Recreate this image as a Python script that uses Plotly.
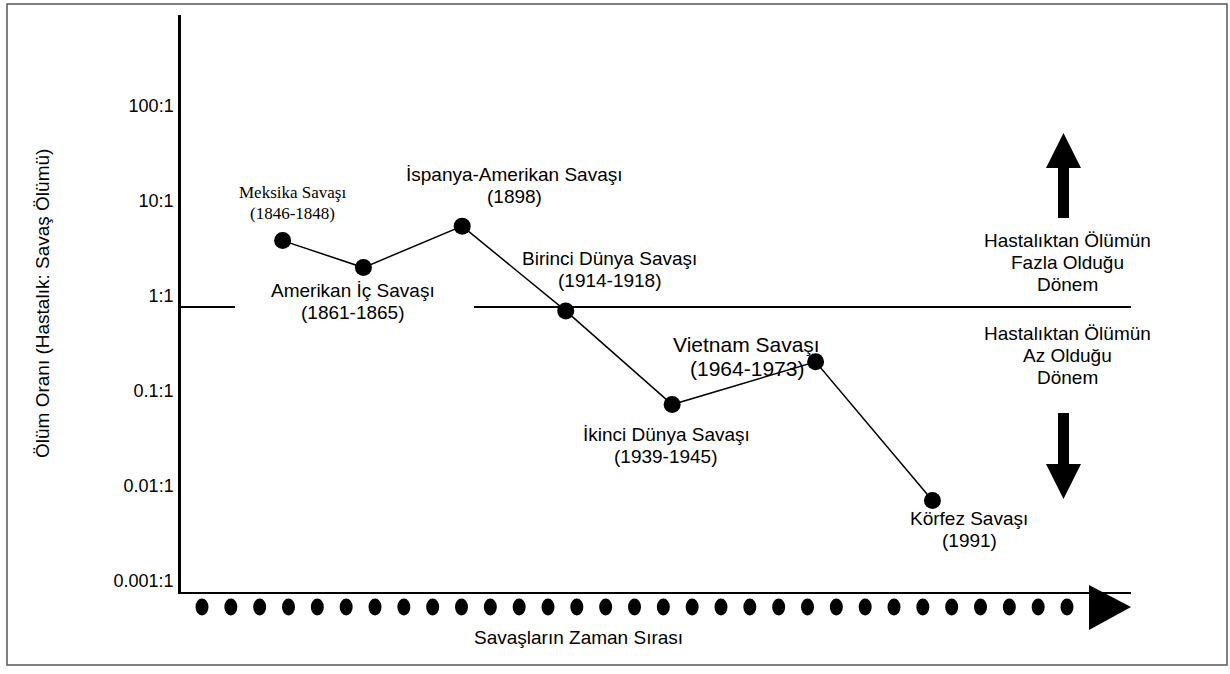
import math
import plotly.graph_objects as go

# ---------------- data ----------------
wars = ["Meksika Savaşı", "Amerikan İç Savaşı", "İspanya-Amerikan Savaşı",
        "Birinci Dünya Savaşı", "İkinci Dünya Savaşı", "Vietnam Savaşı", "Körfez Savaşı"]
years = ["(1846-1848)", "(1861-1865)", "(1898)", "(1914-1918)", "(1939-1945)",
         "(1964-1973)", "(1991)"]
# position along the (ordinal) time line, 0..100
war_positions = [10.7, 19.2, 29.6, 40.5, 51.7, 66.8, 79.1]
# disease : battle death ratio
death_ratio = [5.0, 2.6, 7.1, 0.91, 0.094, 0.265, 0.0092]

tick_values = [0.001, 0.01, 0.1, 1, 10, 100]
tick_labels = ["0.001:1", "0.01:1", "0.1:1", "1:1", "10:1", "100:1"]

upper_text = ["Hastalıktan Ölümün", "Fazla Olduğu", "Dönem"]
lower_text = ["Hastalıktan Ölümün", "Az Olduğu", "Dönem"]

# ---------------- layout constants ----------------
W, H = 1230, 674
L, R, T, B = 181, 1131, 15, 592           # plot area in pixels
SANS = "Liberation Sans, Arial, sans-serif"
SERIF = "Liberation Serif, Times New Roman, serif"


def px(x):
    return (x - L) / (R - L)


def py(y):
    return (B - y) / (B - T)


fig = go.Figure()
fig.add_trace(go.Scatter(
    x=war_positions, y=death_ratio, mode="lines+markers",
    line=dict(color="black", width=1.5),
    marker=dict(color="black", size=17),
    hoverinfo="skip", showlegend=False,
))

# ---------------- labels for each war ----------------
label_style = [
    # xshift, yshift (block centre), line gap, font family, size
    (10, 38, 21, SERIF, 17),
    (-10, -34, 22, SANS, 19),
    (52, 41, 22, SANS, 19),
    (44, 41, 22, SANS, 19),
    (-6, -41, 22, SANS, 19),
    (-69, 5, 24, SANS, 21),
    (37, -29, 22, SANS, 19),
]
annotations = []
for name, yr, xv, yv, (dx, dy, gap, fam, fs) in zip(wars, years, war_positions, death_ratio, label_style):
    for txt, off in ((name, gap / 2), (yr, -gap / 2)):
        annotations.append(dict(
            x=xv, y=math.log10(yv), xref="x", yref="y",
            text=txt, showarrow=False,
            xshift=dx, yshift=dy + off, xanchor="center", yanchor="middle",
            font=dict(family=fam, size=fs, color="black"),
        ))

# axis titles
annotations += [
    dict(x=px(42), y=py(304), xref="paper", yref="paper", text="Ölüm Oranı (Hastalık: Savaş Ölümü)",
         textangle=-90, showarrow=False, xanchor="center", yanchor="middle",
         font=dict(family=SANS, size=19, color="black")),
    dict(x=px(578), y=py(637), xref="paper", yref="paper", text="Savaşların Zaman Sırası",
         showarrow=False, xanchor="center", yanchor="middle",
         font=dict(family=SANS, size=19, color="black")),
]
# side texts
for lines, y0 in ((upper_text, 240), (lower_text, 333)):
    for i, txt in enumerate(lines):
        annotations.append(dict(x=px(1067), y=py(y0 + 22 * i), xref="paper", yref="paper",
                                text=txt, xanchor="center", yanchor="middle", showarrow=False,
                                font=dict(family=SANS, size=19, color="black")))

# ---------------- decorative shapes ----------------
shapes = []
# outer frame
shapes.append(dict(type="rect", xref="paper", yref="paper",
                   x0=px(7), x1=px(1227), y0=py(665), y1=py(4),
                   line=dict(color="#555555", width=1.5), layer="below"))
# 1:1 reference line (with a gap for a label)
for a, b in [(L, 235), (474, R)]:
    shapes.append(dict(type="line", xref="paper", yref="y", x0=px(a), x1=px(b), y0=1, y1=1,
                       line=dict(color="black", width=2)))
# up arrow
shapes.append(dict(type="path", xref="paper", yref="paper",
                   path=(f"M {px(1058)} {py(218)} L {px(1069)} {py(218)} L {px(1069)} {py(168)} "
                         f"L {px(1081)} {py(168)} L {px(1063.5)} {py(133)} L {px(1046)} {py(168)} "
                         f"L {px(1058)} {py(168)} Z"),
                   fillcolor="black", line=dict(width=0)))
# down arrow
shapes.append(dict(type="path", xref="paper", yref="paper",
                   path=(f"M {px(1058)} {py(413)} L {px(1069)} {py(413)} L {px(1069)} {py(464)} "
                         f"L {px(1081)} {py(464)} L {px(1063.5)} {py(499)} L {px(1046)} {py(464)} "
                         f"L {px(1058)} {py(464)} Z"),
                   fillcolor="black", line=dict(width=0)))
# dotted time arrow under the x axis
n_dots = 31
first, last = 202, 1067
for i in range(n_dots):
    cx = first + i * (last - first) / (n_dots - 1)
    shapes.append(dict(type="circle", xref="paper", yref="paper",
                       x0=px(cx - 6.5), x1=px(cx + 6.5), y0=py(615.5), y1=py(598.5),
                       fillcolor="black", line=dict(width=0)))
shapes.append(dict(type="path", xref="paper", yref="paper",
                   path=f"M {px(1089)} {py(585)} L {px(1089)} {py(630)} L {px(1131)} {py(607)} Z",
                   fillcolor="black", line=dict(width=0)))

fig.update_layout(
    width=W, height=H,
    margin=dict(l=L, r=W - R, t=T, b=H - B),
    paper_bgcolor="white", plot_bgcolor="white",
    showlegend=False,
    annotations=annotations,
    shapes=shapes,
    xaxis=dict(range=[0, 100], showline=True, linecolor="black", linewidth=2,
               showgrid=False, zeroline=False, showticklabels=False, ticks="", fixedrange=True),
    yaxis=dict(type="log", range=[-3, (307 - T) / 95.0],
               showline=True, linecolor="black", linewidth=2.5,
               showgrid=False, zeroline=False, ticks="",
               tickvals=tick_values, ticktext=tick_labels,
               ticklabelshift=-11, ticklabelstandoff=1,
               tickfont=dict(family=SANS, size=18, color="black"), fixedrange=True),
)

fig.write_html("out.html", config={"displayModeBar": False},
               post_script="document.body.style.margin='0';")
